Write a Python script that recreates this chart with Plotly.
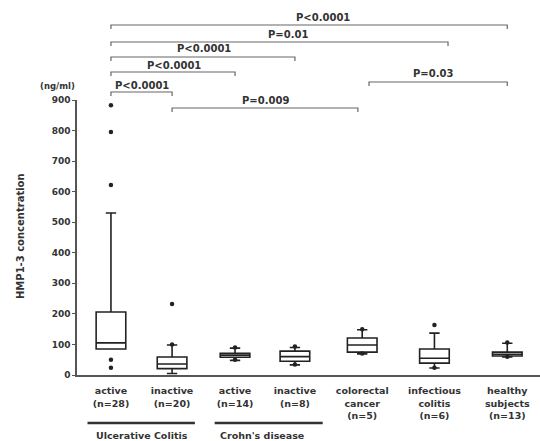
import plotly.graph_objects as go

# ---- data ----
categories = ["active<br>(n=28)", "inactive<br>(n=20)", "active<br>(n=14)", "inactive<br>(n=8)",
              "colorectal<br>cancer<br>(n=5)", "infectious<br>colitis<br>(n=6)", "healthy<br>subjects<br>(n=13)"]
lowerfence = [85, 5, 48, 33, 69, 23, 59]
q1 = [85, 21, 58, 45, 75, 39, 62]
median = [105, 36, 65, 60, 98, 55, 68]
q3 = [206, 59, 71, 78, 121, 85, 75]
upperfence = [530, 98, 88, 90, 148, 137, 104]
outliers = [[883, 795, 622, 50, 24], [232, 100], [90, 50], [93, 34], [150, 70], [164, 24], [106, 60]]
y_ticks = [0, 100, 200, 300, 400, 500, 600, 700, 800, 900]
y_ticktext = ["0", "100", "200", "300", "400", "500", "600", "700", "800", "900"]
groups = ["Ulcerative Colitis", "Crohn's disease"]
p_labels = ["P<0.0001", "P=0.01", "P<0.0001", "P<0.0001", "P<0.0001", "P=0.009", "P=0.03"]

# ---- layout constants ----
positions = [1.0, 1.99, 3.01, 3.98, 5.07, 6.24, 7.42]
PLOT_TOP, PLOT_BOT, PLOT_H, PLOT_L, PLOT_W = 100, 375, 275, 77, 463
def py2paper(py):
    return (PLOT_BOT - py) / PLOT_H
def px2paper(px):
    return (px - PLOT_L) / PLOT_W

FONT = "DejaVu Sans, Arial, sans-serif"
TXT = "#333333"
def f(size):
    return dict(family=FONT, size=size, color=TXT, weight="bold")

fig = go.Figure()
for i in range(len(categories)):
    fig.add_trace(go.Box(
        x=[positions[i]], q1=[q1[i]], median=[median[i]], q3=[q3[i]],
        lowerfence=[lowerfence[i]], upperfence=[upperfence[i]],
        width=0.48, whiskerwidth=0.35, boxpoints=False,
        fillcolor="white", line=dict(color="#222222", width=1.6),
        showlegend=False, hoverinfo="skip"))
    fig.add_trace(go.Scatter(
        x=[positions[i]] * len(outliers[i]), y=outliers[i], mode="markers",
        marker=dict(color="#222222", size=4.5), showlegend=False, cliponaxis=False))

shapes = []
annotations = []
# significance brackets: (x_start, x_end, line_py, text_x, text_py)
brackets = [(1.0, 7.42, 25, 4.44, 17), (1.0, 6.46, 42, 3.87, 34), (1.0, 3.98, 57, 2.51, 49),
            (1.0, 3.01, 72, 2.02, 65), (1.0, 1.99, 92, 1.50, 86), (1.99, 5.0, 108, 3.51, 100),
            (5.18, 7.42, 82, 6.22, 73)]
for (xa, xb, lp, tx, tp), lab in zip(brackets, p_labels):
    y = py2paper(lp)
    d = 4 / PLOT_H
    shapes.append(dict(type="path", xref="x", yref="paper",
                       path=f"M {xa},{y-d} L {xa},{y} L {xb},{y} L {xb},{y-d}",
                       line=dict(color="#666666", width=1.2)))
    annotations.append(dict(x=tx, y=py2paper(tp), xref="x", yref="paper", text=lab,
                            xanchor="center", yanchor="middle",
                            showarrow=False, font=f(10)))

# group lines under x labels
for (xa, xb, cx), g in zip([(0.62, 2.36, 1.5), (2.68, 4.43, 3.45)], groups):
    shapes.append(dict(type="line", xref="x", yref="paper", x0=xa, x1=xb,
                       y0=py2paper(423), y1=py2paper(423), line=dict(color="#333333", width=2.5)))
    annotations.append(dict(x=cx, y=py2paper(435), xref="x", yref="paper", text=g,
                            xanchor="center", yanchor="middle",
                            showarrow=False, font=f(9.5)))

annotations.append(dict(x=px2paper(57), y=py2paper(86), xref="paper", yref="paper", text="(ng/ml)",
                        xanchor="center", yanchor="middle", showarrow=False, font=f(8.5)))
annotations.append(dict(x=px2paper(20), y=py2paper(236), xref="paper", yref="paper",
                        text="HMP1-3 concentration", textangle=-90,
                        xanchor="center", yanchor="middle", showarrow=False, font=f(10)))

fig.update_layout(
    width=540, height=441,
    margin=dict(l=PLOT_L, r=0, t=PLOT_TOP, b=441 - PLOT_BOT),
    paper_bgcolor="white", plot_bgcolor="white",
    font=f(9.5),
    shapes=shapes, annotations=annotations,
    xaxis=dict(range=[0.45, 7.95], tickvals=positions, ticktext=categories, automargin=False,
               showgrid=False, zeroline=False, showline=True, linecolor="#555555", linewidth=2,
               ticks="", ticklabelstandoff=6, tickfont=f(9.5)),
    yaxis=dict(range=[0, 900], tickvals=y_ticks, ticktext=y_ticktext, automargin=False,
               showgrid=False, zeroline=False, showline=True, linecolor="#555555", linewidth=1.5,
               ticks="outside", ticklen=3, tickcolor="#555555", tickfont=f(9)),
)
fig.write_html("out.html", config={"displayModeBar": False},
               post_script="document.body.style.margin='0';document.body.style.overflow='hidden';")
